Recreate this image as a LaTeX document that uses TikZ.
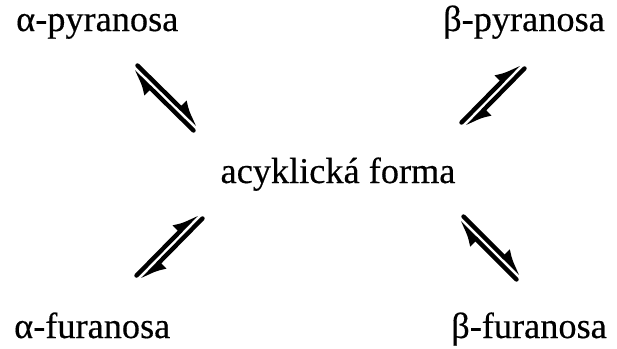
\documentclass[tikz,border=0pt]{standalone}
\usepackage{fontspec}
\setmainfont{Liberation Serif}
\usetikzlibrary{arrows.meta,calc}
\tikzset{
  lbl/.style={inner sep=0pt,font=\fontsize{36.3}{40}\selectfont\addfontfeature{FakeBold=0.4}},
  harp/.style={line width=4.4pt,line cap=round,-{Latex[harpoon,length=20pt,width=20pt]}},
}
\newcommand{\eqpair}[2]{%
  \draw[harp] ($(#1)!3.5pt!90:(#2)$) -- ($(#2)!3.5pt!-90:(#1)$);
  \draw[harp] ($(#2)!3.5pt!90:(#1)$) -- ($(#1)!3.5pt!-90:(#2)$);
}
\begin{document}
\begin{tikzpicture}[x=1pt,y=-1pt]
\useasboundingbox (0,0) rectangle (617,348);
\node[lbl,anchor=base west] (ap) at (16,31) {α-pyranosa};
\node[lbl,anchor=base east] (bp) at (605,31) {β-pyranosa};
\node[lbl,anchor=base] (ac) at (338,183) {acyklická forma};
\node[lbl,anchor=base west] (af) at (14,338) {α-furanosa};
\node[lbl,anchor=base east] (bf) at (607,338) {β-furanosa};
\coordinate (tl1) at (135,68);  \coordinate (tl2) at (196,128);
\coordinate (tr1) at (464,125); \coordinate (tr2) at (522,66);
\coordinate (bl1) at (139,278); \coordinate (bl2) at (200,216);
\coordinate (br1) at (461,219); \coordinate (br2) at (519,277);
\eqpair{tl1}{tl2}
\eqpair{tr1}{tr2}
\eqpair{bl1}{bl2}
\eqpair{br1}{br2}
\end{tikzpicture}
\end{document}
